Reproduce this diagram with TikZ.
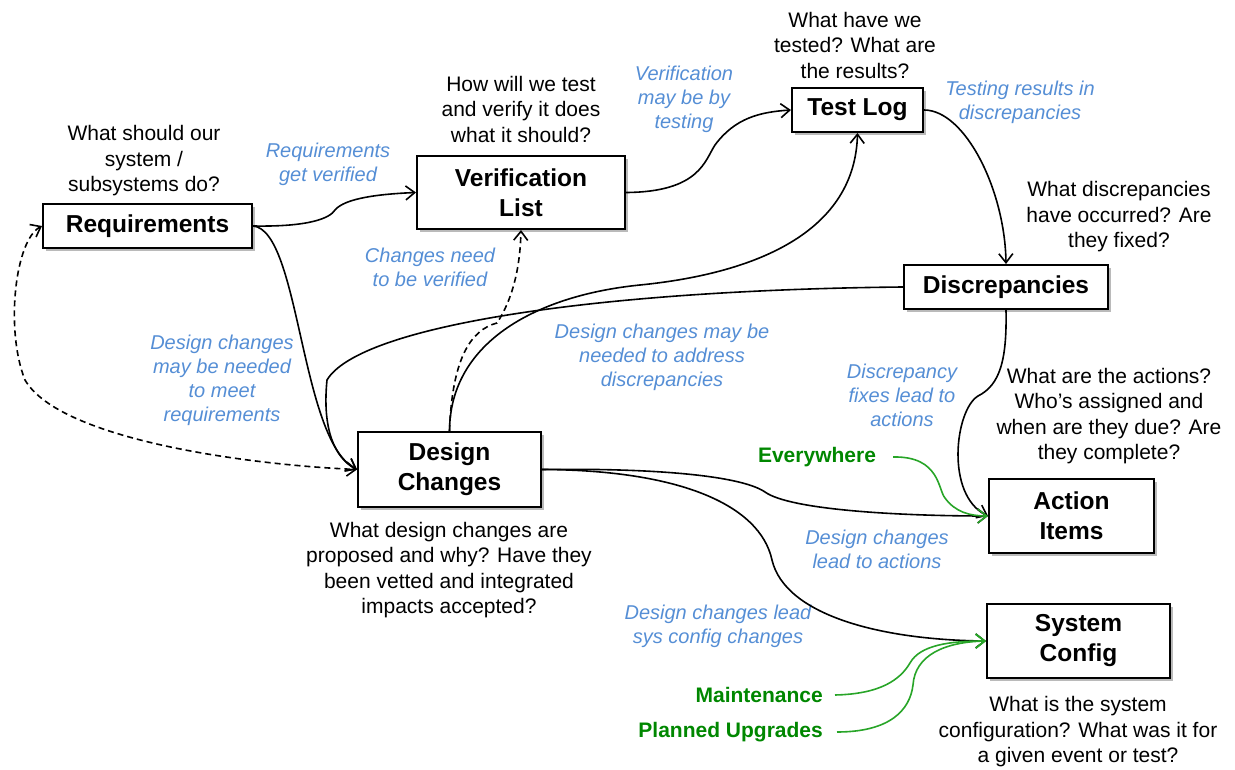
\documentclass[tikz,border=0pt]{standalone}
\usepackage{fontspec}
\setmainfont{Liberation Sans}
\usetikzlibrary{arrows.meta,shadows}
\definecolor{qblue}{RGB}{85,142,213}
\definecolor{qgreen}{RGB}{0,135,0}
\definecolor{lgreen}{RGB}{40,165,40}
\begin{document}
\begin{tikzpicture}[x=1pt,y=-1pt,
  box/.style={draw=black, line width=2pt, fill=white, align=center,
    font=\fontsize{24.5}{30}\selectfont\bfseries, inner sep=0pt,
    drop shadow={shadow xshift=3pt, shadow yshift=-3pt, fill=black!45, opacity=0.6}},
  ques/.style={align=center, font=\fontsize{21}{25.5}\selectfont, inner sep=0pt},
  lab/.style={align=center, font=\fontsize{20}{24}\selectfont\itshape, text=qblue, inner sep=0pt},
  glab/.style={font=\fontsize{21}{25}\selectfont\bfseries, text=qgreen, inner sep=0pt},
  conn/.style={line width=1.6pt, -{Straight Barb[length=9pt,width=14pt]}},
  dconn/.style={conn, dash pattern=on 6pt off 4pt},
  gconn/.style={conn, draw=lgreen},
]
\useasboundingbox (0,0) rectangle (1235,770);

% boxes
\node[box, minimum width=209pt, minimum height=44pt] (req) at (147.5,226) {Requirements};
\node[box, minimum width=208pt, minimum height=73pt] (vl) at (521,192.5) {Verification\\List};
\node[box, minimum width=131pt, minimum height=44pt] (tl) at (857.5,110) {Test Log};
\node[box, minimum width=204pt, minimum height=44pt] (disc) at (1006,287) {Discrepancies};
\node[box, minimum width=183pt, minimum height=75pt] (dc) at (449.5,469.5) {Design\\Changes};
\node[box, minimum width=165pt, minimum height=74pt] (ai) at (1071.5,516) {Action\\Items};
\node[box, minimum width=183pt, minimum height=74pt] (sc) at (1078.5,641) {System\\Config};

% questions
\node[ques] (qreq) at (144,161) {What should our\\system /\\subsystems do?};
\node[ques] (qvl) at (521,109) {How will we test\\and verify it does\\what it should?};
\node[ques] (qtl) at (855,45) {What have we\\tested? What are\\the results?};
\node[ques] (qdisc) at (1119,217) {What discrepancies\\have occurred? Are\\they fixed?};
\node[ques] (qai) at (1109,416) {What are the actions?\\Who’s assigned and\\when are they due? Are\\they complete?};
\node[ques] (qdc) at (449,570) {What design changes are\\proposed and why? Have they\\been vetted and integrated\\impacts accepted?};
\node[ques] (qsc) at (1078,732) {What is the system\\configuration? What was it for\\a given event or test?};

% blue labels
\node[lab] (l1) at (328,164) {Requirements\\get verified};
\node[lab] (l2) at (684,99) {Verification\\may be by\\testing};
\node[lab] (l3) at (1020,102) {Testing results in\\discrepancies};
\node[lab] (l4) at (430,267) {Changes need\\to be verified};
\node[lab] (l5) at (222,380) {Design changes\\may be needed\\to meet\\requirements};
\node[lab] (l6) at (662,357) {Design changes may be\\needed to address\\discrepancies};
\node[lab] (l7) at (902,395) {Discrepancy\\fixes lead to\\actions};
\node[lab] (l8) at (877,549) {Design changes\\lead to actions};
\node[lab] (l9) at (718,626) {Design changes lead\\sys config changes};

% green labels
\node[glab] (ew) at (817,457) {Everywhere};
\node[glab, anchor=east] (mt) at (823,695) {Maintenance};
\node[glab, anchor=east] (pu) at (823,732) {Planned Upgrades};

% connectors
\draw[conn] (req.east) .. controls (310,227) and (330,218) .. (335,210)
  .. controls (345,198) and (380,194) .. (vl.west);
\draw[conn] (req.east) .. controls (300,230) and (300,440) .. (dc.west);
\draw[dconn, {Straight Barb[length=9pt,width=14pt]}-{Straight Barb[length=9pt,width=14pt]}]
  (req.west) .. controls (15,240) and (5,330) .. (25,380)
  .. controls (60,440) and (250,465) .. (dc.west);
\draw[conn] (vl.east) .. controls (700,192) and (705,160) .. (715,145)
  .. controls (735,118) and (760,112) .. (tl.west);
\draw[conn] (tl.east) .. controls (965,110) and (1005,190) .. (disc.north);
\draw[conn] (dc.north) .. controls (450,340) and (540,295) .. (640,285)
  .. controls (760,273) and (855,230) .. (tl.south);
\draw[dconn] (dc.north) .. controls (452,360) and (470,330) .. (497,323)
  .. controls (512,300) and (520,270) .. (vl.south);
\draw[conn] (disc.west) .. controls (600,290) and (360,325) .. (327,380)
  .. controls (322,430) and (335,458) .. (dc.west);
\draw[conn] (disc.south) .. controls (1007,360) and (1000,385) .. (978,396)
  .. controls (955,410) and (945,495) .. (ai.west);
\draw[conn] (dc.east) .. controls (650,468) and (740,475) .. (765,492)
  .. controls (790,510) and (900,516) .. (ai.west);
\draw[conn] (dc.east) .. controls (680,470) and (760,505) .. (772,560)
  .. controls (785,615) and (880,640) .. (sc.west);
\draw[gconn] ([xshift=17pt]ew.east) .. controls (940,456) and (938,490) .. (945,498)
  .. controls (955,512) and (970,516) .. (ai.west);
\draw[gconn] ([xshift=12pt]mt.east) .. controls (880,694) and (900,680) .. (910,663)
  .. controls (920,645) and (950,641) .. (sc.west);
\draw[gconn] ([xshift=14pt]pu.east) .. controls (890,732) and (910,710) .. (913,685)
  .. controls (915,655) and (945,642) .. (sc.west);
\end{tikzpicture}
\end{document}
